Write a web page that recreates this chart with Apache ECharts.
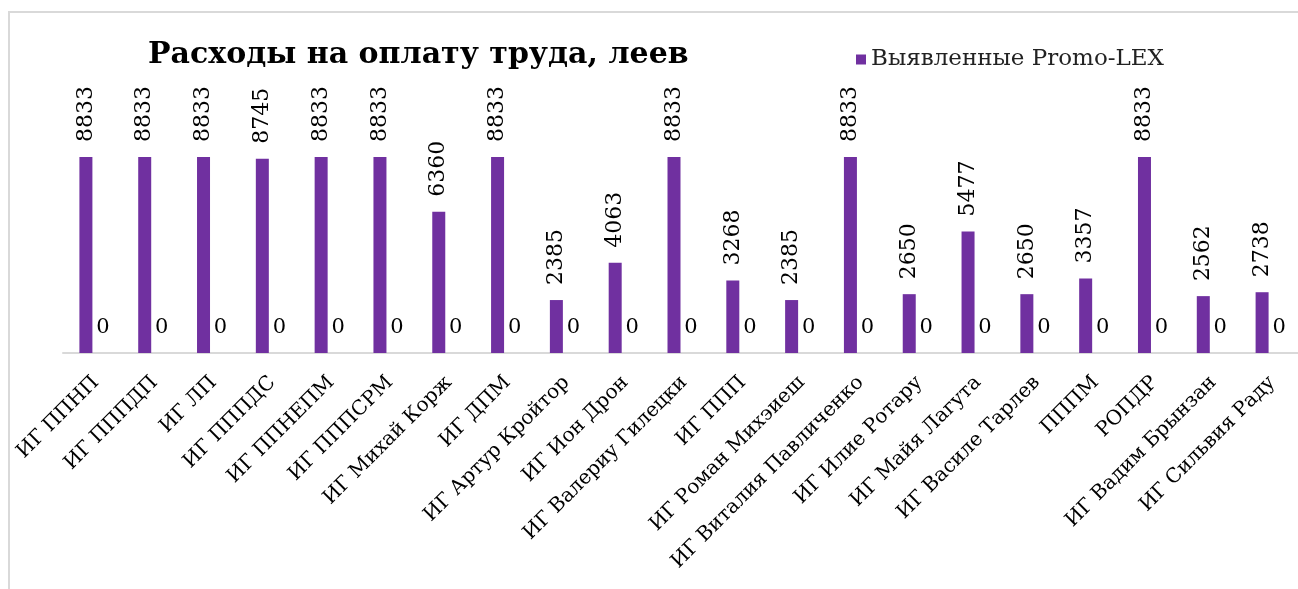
<!DOCTYPE html>
<html>
<head>
<meta charset="utf-8">
<script src="https://cdn.jsdelivr.net/npm/echarts@6/dist/echarts.min.js"></script>
<style>
  html, body { margin: 0; padding: 0; background: #fff; }
  #chart { width: 1298px; height: 589px; }
</style>
</head>
<body>
<div id="chart"></div>
<script>
var categories = [
    'ИГ ППНП', 'ИГ ПППДП', 'ИГ ЛП', 'ИГ ПППДС', 'ИГ ППНЕПМ', 'ИГ ПППСРМ',
    'ИГ Михай Корж', 'ИГ ДПМ', 'ИГ Артур Кройтор', 'ИГ Ион Дрон',
    'ИГ Валериу Гилецки', 'ИГ ППП', 'ИГ Роман Михэиеш', 'ИГ Виталия Павличенко',
    'ИГ Илие Ротару', 'ИГ Майя Лагута', 'ИГ Василе Тарлев', 'ПППМ', 'РОПДР',
    'ИГ Вадим Брынзан', 'ИГ Сильвия Раду'
];
var promoLex = [8833, 8833, 8833, 8745, 8833, 8833, 6360, 8833, 2385, 4063,
    8833, 3268, 2385, 8833, 2650, 5477, 2650, 3357, 8833, 2562, 2738];
var reported = [0, 0, 0, 0, 0, 0, 0, 0, 0, 0, 0, 0, 0, 0, 0, 0, 0, 0, 0, 0, 0];

var serif = '"DejaVu Serif", "Liberation Serif", serif';
var purple = '#7030A0';

var dom = document.getElementById('chart');
var myChart = echarts.init(dom);
var option = {
    animation: false,
    title: {
        text: 'Расходы на оплату труда, леев',
        left: 143,
        top: 35,
        textStyle: {
            fontFamily: serif,
            fontWeight: 'bold',
            fontSize: 30,
            color: '#000'
        }
    },
    legend: {
        data: ['Выявленные Promo-LEX'],
        left: 851,
        top: 43,
        itemWidth: 10,
        itemHeight: 10,
        icon: 'rect',
        textStyle: {
            fontFamily: serif,
            fontSize: 23,
            color: '#222'
        }
    },
    graphic: [
        {
            type: 'rect',
            shape: { x: 9, y: 12, width: 1300, height: 600 },
            style: { fill: 'none', stroke: '#d9d9d9', lineWidth: 2 },
            silent: true
        }
    ],
    grid: {
        left: 63,
        right: -2,
        top: 131,
        bottom: 236,
        containLabel: false
    },
    xAxis: {
        type: 'category',
        data: categories,
        axisLine: { lineStyle: { color: '#d9d9d9', width: 2 } },
        axisTick: { show: false },
        axisLabel: {
            interval: 0,
            rotate: 45,
            margin: 30,
            padding: [0, -5, 0, 0],
            fontFamily: serif,
            fontSize: 20,
            color: '#000'
        }
    },
    yAxis: {
        type: 'value',
        min: 0,
        max: 10000,
        show: false,
        splitLine: { show: false }
    },
    series: [
        {
            name: 'Выявленные Promo-LEX',
            type: 'bar',
            data: promoLex,
            barWidth: 13,
            barGap: '0%',
            itemStyle: { color: purple },
            label: {
                show: true,
                position: 'top',
                rotate: 90,
                align: 'left',
                verticalAlign: 'middle',
                distance: 15,
                fontFamily: serif,
                fontSize: 22,
                color: '#000'
            }
        },
        {
            name: 'reported',
            type: 'bar',
            data: reported,
            barWidth: 13,
            itemStyle: { color: '#a5a5a5' },
            label: {
                show: true,
                position: 'top',
                distance: 15,
                offset: [4, 0],
                fontFamily: serif,
                fontSize: 21,
                color: '#000'
            }
        }
    ]
};
myChart.setOption(option);
</script>
</body>
</html>
